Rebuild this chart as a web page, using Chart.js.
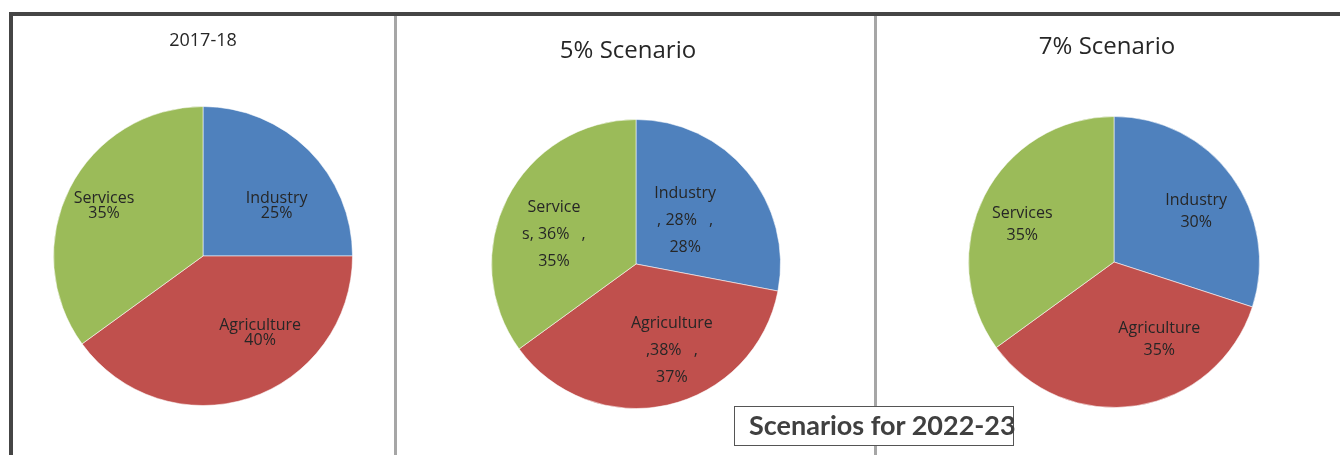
<!DOCTYPE html>
<html>
<head>
<meta charset="utf-8">
<script src="https://cdn.jsdelivr.net/npm/chart.js@4"></script>
<style>
  html, body { margin: 0; padding: 0; background: #fff; width: 1340px; height: 455px; overflow: hidden; position: relative; }
  .panel { position: absolute; top: 16px; height: 439px; }
  .line { position: absolute; }
  #caption { position: absolute; left: 734px; top: 406px; width: 278px; height: 38px; border: 1px solid #555; background: #fff; }
  #captionText { position: absolute; left: 749px; top: 411px; font: bold 27px/27px Lato, sans-serif; color: #404040; white-space: nowrap; }
</style>
</head>
<body>
<div class="line" style="left:9px;top:12px;width:1331px;height:4px;background:#454545;"></div>
<div class="line" style="left:9px;top:12px;width:4px;height:443px;background:#454545;"></div>
<div class="line" style="left:394px;top:16px;width:3px;height:439px;background:#a6a6a6;"></div>
<div class="line" style="left:874px;top:16px;width:3px;height:439px;background:#a6a6a6;"></div>

<div class="panel" style="left:14px;width:380px;"><canvas id="c1"></canvas></div>
<div class="panel" style="left:397px;width:477px;"><canvas id="c2"></canvas></div>
<div class="panel" style="left:877px;width:463px;"><canvas id="c3"></canvas></div>

<div id="caption"></div>
<div id="captionText">Scenarios for 2022-23</div>

<script>
const categories = ['Industry', 'Agriculture', 'Services'];
const share2017 = [25, 40, 35];
const share5 = [28, 37, 35];
const share5Alt = [28, 38, 36];
const share7 = [30, 35, 35];
const titles = ['2017-18', '5% Scenario', '7% Scenario'];
const sliceColors = ['#4F81BD', '#C0504D', '#9BBB59'];

const lines2017 = categories.map((c, i) => [c, share2017[i] + '%']);
const lines5 = [
  [categories[0], ', ' + share5Alt[0] + '%\u2002 ,', share5[0] + '%'],
  [categories[1], ',' + share5Alt[1] + '%\u2002 ,', share5[1] + '%'],
  [categories[2].slice(0, 7), categories[2].slice(7) + ', ' + share5Alt[2] + '%\u2002 ,', share5[2] + '%']
];
const lines7 = categories.map((c, i) => [c, share7[i] + '%']);

const panelTitle = {
  id: 'panelTitle',
  afterDraw(chart, args, opts) {
    const ctx = chart.ctx;
    const a = chart.chartArea;
    ctx.save();
    ctx.font = opts.size + 'px "Open Sans"';
    ctx.fillStyle = opts.color;
    ctx.textAlign = 'center';
    ctx.textBaseline = 'middle';
    ctx.fillText(opts.text, (a.left + a.right) / 2 + opts.dx, opts.y);
    ctx.restore();
  }
};

const sliceLabels = {
  id: 'sliceLabels',
  afterDatasetsDraw(chart, args, opts) {
    const ctx = chart.ctx;
    const meta = chart.getDatasetMeta(0);
    ctx.save();
    ctx.font = opts.size + 'px "Open Sans"';
    ctx.fillStyle = opts.color;
    ctx.textAlign = 'center';
    ctx.textBaseline = 'middle';
    meta.data.forEach((arc, i) => {
      const p = arc.getProps(['x', 'y', 'startAngle', 'endAngle', 'outerRadius'], true);
      const mid = (p.startAngle + p.endAngle) / 2;
      const r = p.outerRadius * opts.radial;
      const cx = p.x + Math.cos(mid) * r + opts.nudge[i][0];
      const cy = p.y + Math.sin(mid) * r + opts.nudge[i][1];
      const lines = opts.lines[i];
      lines.forEach((t, k) => ctx.fillText(t, cx, cy + (k - (lines.length - 1) / 2) * opts.spacing));
    });
    ctx.restore();
  }
};

function makePie(id, values, titleOpts, layoutPad, labelOpts) {
  return new Chart(document.getElementById(id), {
    type: 'pie',
    data: {
      labels: categories,
      datasets: [{
        data: values,
        backgroundColor: sliceColors,
        borderColor: 'rgba(255,255,255,0.55)',
        borderWidth: 1
      }]
    },
    options: {
      responsive: true,
      maintainAspectRatio: false,
      animation: false,
      devicePixelRatio: 1,
      layout: { padding: layoutPad },
      plugins: {
        legend: { display: false },
        tooltip: { enabled: false },
        title: { display: false },
        panelTitle: Object.assign({ color: '#262626' }, titleOpts),
        sliceLabels: Object.assign({ size: 16, color: '#262626', radial: 0.63 }, labelOpts)
      }
    },
    plugins: [sliceLabels, panelTitle]
  });
}

makePie('c1', share2017, { text: titles[0], size: 18, y: 25, dx: 0 },
  { left: 39, right: 41, top: 90, bottom: 49 },
  { lines: lines2017, spacing: 15, nudge: [[7, 17], [28, -13], [-15, -7]] });

makePie('c2', share5, { text: titles[1], size: 24, y: 35, dx: -8 },
  { left: 94, right: 93, top: 103, bottom: 46 },
  { lines: lines5, spacing: 27, nudge: [[-21, 14], [16, -2], [-1, 12]] });

makePie('c3', share7, { text: titles[2], size: 24, y: 31, dx: -7 },
  { left: 91, right: 80, top: 100, bottom: 47 },
  { lines: lines7, spacing: 22, nudge: [[8, 3], [31, -13], [-10, 4]] });
</script>
</body>
</html>
